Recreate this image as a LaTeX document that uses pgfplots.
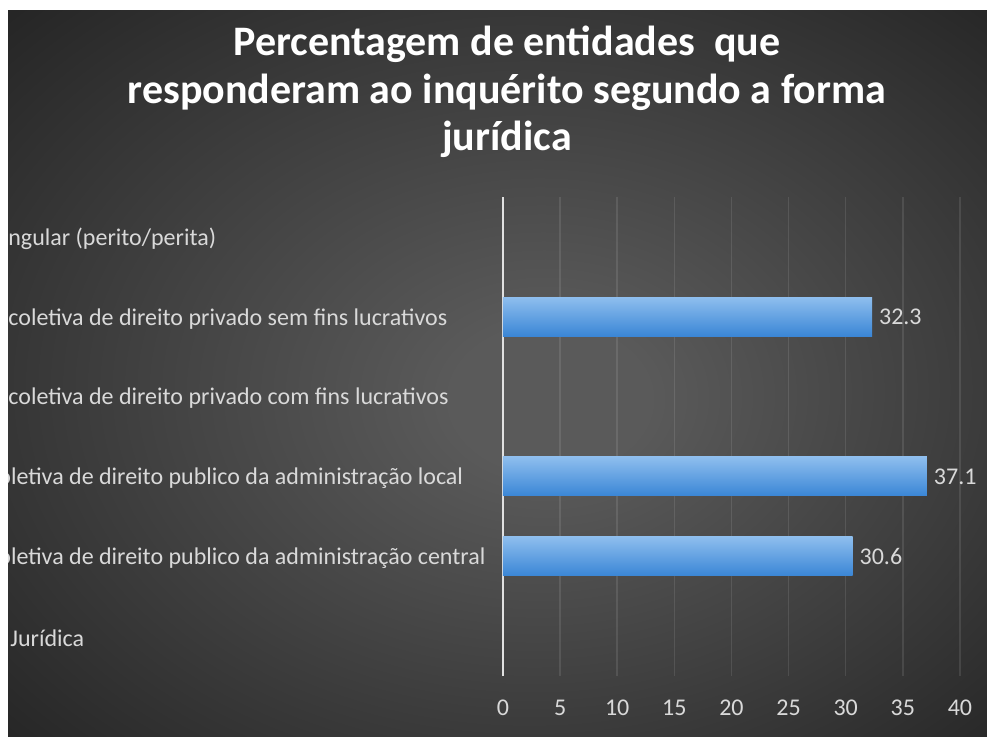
\documentclass[border=0pt]{standalone}
\usepackage{fontspec}
\setmainfont{Carlito}
\usepackage{pgfplots}
\pgfplotsset{compat=1.18}
\definecolor{bginner}{HTML}{5A5A5A}
\definecolor{bgouter}{HTML}{262626}
\definecolor{lbl}{HTML}{D9D9D9}
\definecolor{bartop}{HTML}{8EBEEE}
\definecolor{barbot}{HTML}{3A86D6}
\pgfdeclareradialshading{bgshade}{\pgfpoint{3bp}{-2bp}}{color(0bp)=(bginner); color(5bp)=(bginner); color(36bp)=(bgouter); color(50bp)=(bgouter)}
\begin{document}
\begin{tikzpicture}
\fill[white] (0pt,0pt) rectangle (493.5pt,368pt);
\begin{scope}
\clip (4pt,0pt) rectangle (493.5pt,363pt);
\shade[shading=bgshade] (4pt,0pt) rectangle (493.5pt,363pt);
\begin{axis}[
  at={(251.5pt,30pt)}, anchor=south west,
  scale only axis, width=228.5pt, height=239.5pt,
  xmin=0, xmax=40, ymin=-0.5, ymax=5.5,
  xtick={0,5,...,40},
  ytick={0,...,5},
  yticklabels={{\hspace*{1pt}\llap{Forma }Jurídica},
    {\hspace*{-5pt}\llap{Pessoa c}oletiva de direito publico da administração central},
    {\hspace*{-5pt}\llap{Pessoa c}oletiva de direito publico da administração local},
    {\llap{Pessoa }coletiva de direito privado com fins lucrativos},
    {\llap{Pessoa }coletiva de direito privado sem fins lucrativos},
    {\llap{Pessoa si}ngular (perito/perita)}},
  axis line style={draw=none},
  major tick length=0pt,
  xmajorgrids,
  grid style={white, opacity=0.10, line width=0.75pt},
  extra x ticks={0}, extra x tick labels={},
  extra x tick style={major grid style={draw=lbl!80, opacity=1, line width=1pt}},
  tick label style={font=\fontsize{12}{14}\selectfont, text=lbl},
  /pgf/number format/assume math mode=true,
  xticklabel style={yshift=-8.5pt},
  yticklabel style={anchor=west, inner sep=0pt, xshift=-247.5pt, yshift=-1pt},
  xbar, bar width=19.5pt,
  nodes near coords,
  nodes near coords style={font=\fontsize{12}{14}\selectfont, text=lbl},
]
\addplot[draw=none, bar shift=0pt, top color=bartop, bottom color=barbot] coordinates {(30.6,1)};
\addplot[draw=none, bar shift=0pt, top color=bartop, bottom color=barbot] coordinates {(37.1,2)};
\addplot[draw=none, bar shift=0pt, top color=bartop, bottom color=barbot] coordinates {(32.3,4)};
\end{axis}
\node[text=white, font=\fontsize{21}{24}\selectfont\bfseries, anchor=base] at (253.5pt,340.5pt) {Percentagem de entidades\ \ que};
\node[text=white, font=\fontsize{21}{24}\selectfont\bfseries, anchor=base] at (253.5pt,316.5pt) {responderam ao inquérito segundo a forma};
\node[text=white, font=\fontsize{21}{24}\selectfont\bfseries, anchor=base] at (253.5pt,293pt) {jurídica};
\end{scope}
\pgfresetboundingbox
\useasboundingbox (0pt,0pt) rectangle (493.5pt,368pt);
\end{tikzpicture}
\end{document}
